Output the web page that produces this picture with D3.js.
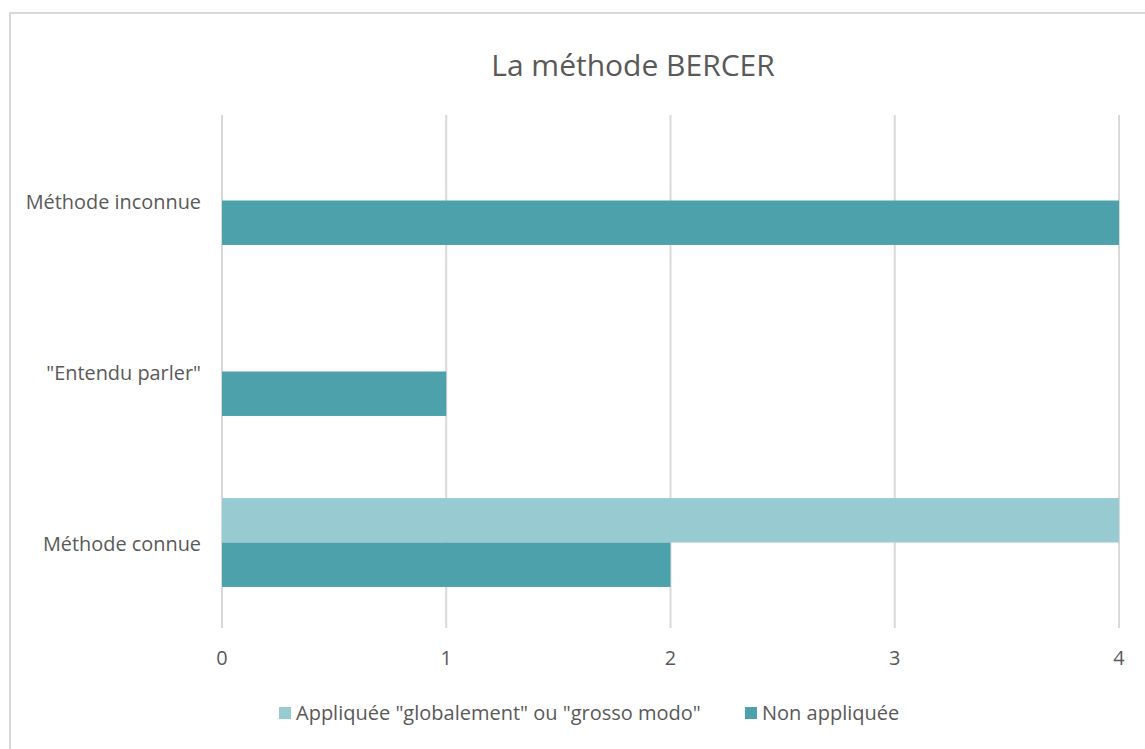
<!DOCTYPE html>
<html>
<head>
<meta charset="utf-8">
<script src="https://cdn.jsdelivr.net/npm/d3@7"></script>
<style>
  body { margin: 0; background: #fff; }
  svg { display: block; }
</style>
</head>
<body>
<div id="chart"></div>
<script>
// categories top to bottom, as shown
const categories = ["Méthode inconnue", "\"Entendu parler\"", "Méthode connue"];
const seriesNames = ["Appliquée \"globalement\" ou \"grosso modo\"", "Non appliquée"];
const appliquee = [0, 0, 4];
const nonAppliquee = [4, 1, 2];
const xTicks = [0, 1, 2, 3, 4];
const colors = ["#97cbd1", "#4ca1ab"];

const W = 1145, H = 749;
const font = "'Open Sans', sans-serif";
const textColor = "#595959";

const svg = d3.select("#chart").append("svg")
  .attr("width", W)
  .attr("height", H);

// chart frame (runs past the right and bottom edges)
svg.append("rect")
  .attr("x", 10).attr("y", 13)
  .attr("width", 1200).attr("height", 800)
  .attr("fill", "#fff")
  .attr("stroke", "#d9d9d9")
  .attr("stroke-width", 2);

const plot = { left: 222, right: 1119, top: 115, bottom: 628 };

const x = d3.scaleLinear().domain([0, 4]).range([plot.left, plot.right]);
const y = d3.scaleBand().domain(categories).range([plot.top, plot.bottom]).paddingInner(0.48).paddingOuter(0.24);
const ySub = d3.scaleBand().domain([0, 1]).range([0, y.bandwidth()]);

// gridlines
svg.append("g")
  .selectAll("line")
  .data(xTicks)
  .join("line")
  .attr("x1", d => x(d)).attr("x2", d => x(d))
  .attr("y1", plot.top).attr("y2", plot.bottom)
  .attr("stroke", "#d9d9d9")
  .attr("stroke-width", 2);

// bars
const rows = categories.map((c, i) => ({ cat: c, vals: [appliquee[i], nonAppliquee[i]] }));
const groups = svg.append("g").selectAll("g")
  .data(rows)
  .join("g")
  .attr("transform", d => `translate(0, ${y(d.cat)})`);

groups.selectAll("rect")
  .data(d => d.vals.map((v, s) => ({ v, s })))
  .join("rect")
  .attr("x", x(0))
  .attr("y", d => ySub(d.s))
  .attr("width", d => x(d.v) - x(0))
  .attr("height", ySub.bandwidth())
  .attr("fill", d => colors[d.s]);

// x tick labels
svg.append("g")
  .selectAll("text")
  .data(xTicks)
  .join("text")
  .attr("x", d => x(d))
  .attr("y", 660)
  .attr("text-anchor", "middle")
  .attr("dominant-baseline", "middle")
  .attr("font-family", font)
  .attr("font-size", "19.9px")
  .attr("fill", textColor)
  .text(d => d);

// category labels
svg.append("g")
  .selectAll("text")
  .data(categories)
  .join("text")
  .attr("x", 201)
  .attr("y", d => y(d) + y.bandwidth() / 2 + 3)
  .attr("text-anchor", "end")
  .attr("dominant-baseline", "middle")
  .attr("font-family", font)
  .attr("font-size", "19.9px")
  .attr("fill", textColor)
  .text(d => d);

// title
svg.append("text")
  .attr("x", 633)
  .attr("y", 68)
  .attr("text-anchor", "middle")
  .attr("dominant-baseline", "middle")
  .attr("font-family", font)
  .attr("font-size", "30px")
  .attr("fill", textColor)
  .text("La méthode BERCER");

// legend
const legendX = [279, 745];
const legend = svg.append("g").selectAll("g")
  .data(seriesNames)
  .join("g")
  .attr("transform", (d, i) => `translate(${legendX[i]}, 713)`);

legend.append("rect")
  .attr("x", 0).attr("y", -6)
  .attr("width", 12).attr("height", 12)
  .attr("fill", (d, i) => colors[i]);

legend.append("text")
  .attr("x", 17)
  .attr("y", 2)
  .attr("dominant-baseline", "middle")
  .attr("font-family", font)
  .attr("font-size", "20px")
  .attr("fill", textColor)
  .text(d => d);
</script>
</body>
</html>
